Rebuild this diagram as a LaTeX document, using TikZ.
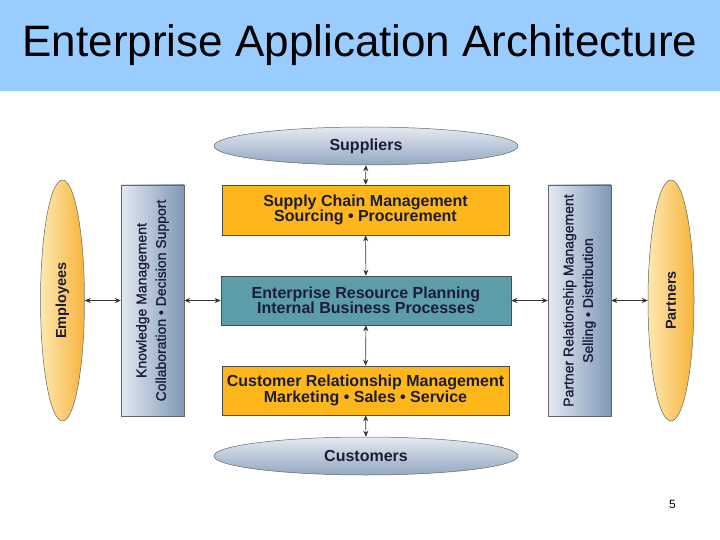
\documentclass[tikz,border=0pt]{standalone}
\usepackage{fontspec}
\setmainfont{Liberation Sans}
\usetikzlibrary{arrows.meta,shapes.geometric}
\definecolor{titlebg}{HTML}{99CCFF}
\definecolor{gold}{HTML}{FDB71A}
\definecolor{teal}{HTML}{5B9DAA}
\definecolor{ink}{HTML}{1C1C3A}
\definecolor{bluelight}{HTML}{E4EAF1}
\definecolor{bluedark}{HTML}{7F98B6}
\definecolor{orlight}{HTML}{FDE8B0}
\definecolor{ordark}{HTML}{F7B33A}
\tikzset{
  box/.style={draw=black!70,line width=0.6pt,minimum width=287pt,minimum height=50pt,
    text=ink,font=\fontsize{16}{15.5}\selectfont\bfseries,align=center,inner sep=0pt},
  ovalh/.style={ellipse,draw=black!60,line width=0.5pt,minimum width=304pt,minimum height=38pt,
    top color=bluelight,bottom color=bluedark!85,text=ink,font=\fontsize{16}{16}\selectfont\bfseries,inner sep=0pt},
  ovalv/.style={ellipse,draw=black!60,line width=0.5pt,minimum width=44pt,minimum height=241pt,
    left color=orlight,right color=ordark,inner sep=0pt},
  bar/.style={draw=black!60,line width=0.5pt,minimum width=63pt,minimum height=231pt,
    left color=bluelight,right color=bluedark,inner sep=0pt},
  vtext/.style={rotate=90,text=ink,align=center,font=\fontsize{14}{19.5}\selectfont\addfontfeature{FakeBold=1.2}},
  vtextb/.style={rotate=90,text=ink,align=center,font=\fontsize{14.5}{15}\selectfont\bfseries},
  link/.style={line width=0.6pt,black!80,{Stealth[length=6pt,width=5pt]}-{Stealth[length=6pt,width=5pt]}}
}
\begin{document}
\begin{tikzpicture}[x=1pt,y=-1pt]
\useasboundingbox (0,0) rectangle (720,540);
\fill[white] (0,0) rectangle (720,540);
\fill[titlebg] (0,0) rectangle (720,91);
\node[font=\fontsize{44}{48}\selectfont,text=black] (title) at (360,45) {Enterprise Application Architecture};

\node[ovalh] (sup) at (366,146) {Suppliers};
\node[box,fill=gold] (scm) at (365.5,210) {Supply Chain Management\\Sourcing \textbullet{} Procurement};
\node[box,fill=teal,minimum width=290pt,minimum height=49pt] (erp) at (366,300.5) {Enterprise Resource Planning\\Internal Business Processes};
\node[box,fill=gold,minimum height=49pt] (crm) at (365.5,390.5) {Customer Relationship Management\\Marketing \textbullet{} Sales \textbullet{} Service};
\node[ovalh] (cus) at (366,456) {Customers};

\node[bar] (kmbar) at (152.5,300.5) {};
\node[vtext] (km) at (kmbar.center) {Knowledge Management\\Collaboration \textbullet{} Decision Support};
\node[bar] (prbar) at (579.5,300.5) {};
\node[vtext] (pr) at (prbar.center) {Partner Relationship Management\\Selling \textbullet{} Distribution};

\node[ovalv] (emp) at (62.5,300.5) {};
\node[vtextb] (empt) at (emp.center) {Employees};
\node[ovalv,minimum width=46pt] (par) at (671,300.5) {};
\node[vtextb] (part) at (par.center) {Partners};

\draw[link] (sup) -- (scm);
\draw[link] (scm) -- (erp);
\draw[link] (erp) -- (crm);
\draw[link] (crm) -- (cus);
\draw[link] (emp) -- (kmbar);
\draw[link] (kmbar) -- (erp);
\draw[link] (erp) -- (prbar);
\draw[link] (prbar) -- (par);

\node[font=\fontsize{12}{14}\selectfont] (pg) at (672.5,504) {5};
\end{tikzpicture}
\end{document}
